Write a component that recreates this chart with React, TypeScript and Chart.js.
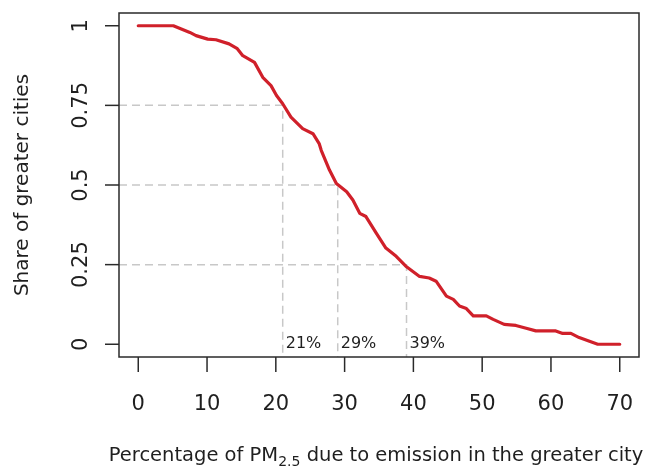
import { useEffect, useRef } from "react";
import { Chart, registerables } from "chart.js";

Chart.register(...registerables);

// Share of greater cities (y) vs percentage of PM2.5 due to emission in the greater city (x)
const pmShareX = [
  0, 5.1, 7.5, 8.4, 10.1, 11.3, 13.2, 14.4, 15.2, 16.9, 18.1, 19.3, 20.1, 21.0,
  22.2, 23.9, 25.4, 26.3, 26.6, 27.8, 28.8, 30.3, 31.2, 32.2, 33.1, 34.6, 36.0,
  37.5, 38.9, 40.9, 42.3, 43.3, 44.8, 45.8, 46.7, 47.7, 48.7, 50.6, 51.6, 53.2,
  54.9, 56.4, 57.8, 60.7, 61.7, 62.9, 64.1, 66.8, 70,
];
const cityShareY = [
  1, 1, 0.979, 0.969, 0.958, 0.956, 0.943, 0.928, 0.906, 0.885, 0.838, 0.812,
  0.781, 0.755, 0.713, 0.677, 0.661, 0.63, 0.609, 0.547, 0.505, 0.479, 0.453,
  0.411, 0.401, 0.349, 0.302, 0.276, 0.245, 0.213, 0.208, 0.198, 0.151, 0.141,
  0.12, 0.112, 0.089, 0.089, 0.078, 0.0625, 0.059, 0.05, 0.042, 0.042, 0.034,
  0.034, 0.021, 0, 0,
];

const xTicks = [0, 10, 20, 30, 40, 50, 60, 70];
const xTickLabels = ["0", "10", "20", "30", "40", "50", "60", "70"];
const yTicks = [0, 0.25, 0.5, 0.75, 1];
const yTickLabels = ["0", "0.25", "0.5", "0.75", "1"];

const thresholdX = [21, 29, 39];
const thresholdY = [0.75, 0.5, 0.25];
const thresholdLabels = ["21%", "29%", "39%"];

const xTitleMain = "Percentage of PM";
const xTitleSub = "2.5";
const xTitleRest = " due to emission in the greater city";
const yTitle = "Share of greater cities";

const FONT = '"DejaVu Sans", sans-serif';
const INK = "#1f1f1f";

const rPlotPlugin = {
  id: "rPlot",
  beforeDatasetsDraw(chart: any) {
    const { ctx, chartArea: a, scales } = chart;
    const x = scales.x;
    const y = scales.y;
    ctx.save();
    ctx.strokeStyle = "#c8c8c8";
    ctx.lineWidth = 1.5;
    ctx.setLineDash([8, 5]);
    thresholdX.forEach((tx, i) => {
      const px = x.getPixelForValue(tx);
      const py = y.getPixelForValue(thresholdY[i]);
      ctx.beginPath();
      ctx.moveTo(a.left, py);
      ctx.lineTo(px, py);
      ctx.lineTo(px, a.bottom);
      ctx.stroke();
    });
    ctx.setLineDash([]);
    ctx.fillStyle = INK;
    ctx.font = `16px ${FONT}`;
    ctx.textAlign = "left";
    ctx.textBaseline = "middle";
    thresholdX.forEach((tx, i) => {
      ctx.fillText(thresholdLabels[i], x.getPixelForValue(tx) + 3, y.getPixelForValue(0));
    });
    ctx.restore();
  },
  afterDraw(chart: any) {
    const { ctx, chartArea: a, scales } = chart;
    const x = scales.x;
    const y = scales.y;
    ctx.save();
    ctx.strokeStyle = "#2a2a2a";
    ctx.lineWidth = 1.5;
    ctx.strokeRect(a.left, a.top, a.right - a.left, a.bottom - a.top);

    // y ticks
    ctx.fillStyle = INK;
    ctx.font = `21px ${FONT}`;
    yTicks.forEach((v, i) => {
      const py = y.getPixelForValue(v);
      ctx.beginPath();
      ctx.moveTo(a.left - 14, py);
      ctx.lineTo(a.left, py);
      ctx.stroke();
      ctx.save();
      ctx.translate(a.left - 32, py);
      ctx.rotate(-Math.PI / 2);
      ctx.textAlign = "center";
      ctx.textBaseline = "alphabetic";
      ctx.fillText(yTickLabels[i], 0, 0);
      ctx.restore();
    });

    // x ticks
    xTicks.forEach((v, i) => {
      const px = x.getPixelForValue(v);
      ctx.beginPath();
      ctx.moveTo(px, a.bottom);
      ctx.lineTo(px, a.bottom + 15);
      ctx.stroke();
      ctx.textAlign = "center";
      ctx.textBaseline = "alphabetic";
      ctx.fillText(xTickLabels[i], px, a.bottom + 53);
    });

    // x title with subscript
    const mainFont = `19.5px ${FONT}`;
    const subFont = `14px ${FONT}`;
    ctx.font = mainFont;
    const w1 = ctx.measureText(xTitleMain).width;
    const w3 = ctx.measureText(xTitleRest).width;
    ctx.font = subFont;
    const w2 = ctx.measureText(xTitleSub).width;
    const cx = (a.left + a.right) / 2 - 3;
    let sx = cx - (w1 + w2 + w3) / 2;
    const base = a.bottom + 104;
    ctx.textAlign = "left";
    ctx.textBaseline = "alphabetic";
    ctx.font = mainFont;
    ctx.fillText(xTitleMain, sx, base);
    sx += w1;
    ctx.font = subFont;
    ctx.fillText(xTitleSub, sx, base + 5);
    sx += w2;
    ctx.font = mainFont;
    ctx.fillText(xTitleRest, sx, base);

    // y title
    ctx.save();
    ctx.translate(28, (a.top + a.bottom) / 2);
    ctx.rotate(-Math.PI / 2);
    ctx.font = `20px ${FONT}`;
    ctx.textAlign = "center";
    ctx.textBaseline = "alphabetic";
    ctx.fillText(yTitle, 0, 0);
    ctx.restore();

    ctx.restore();
  },
};

export default function App() {
  const canvasRef = useRef<HTMLCanvasElement | null>(null);

  useEffect(() => {
    if (!canvasRef.current) return;
    const chart = new Chart(canvasRef.current, {
      type: "line",
      data: {
        datasets: [
          {
            data: pmShareX.map((v, i) => ({ x: v, y: cityShareY[i] })),
            borderColor: "#d0202a",
            borderWidth: 3.2,
            pointRadius: 0,
            tension: 0,
            borderJoinStyle: "round",
            borderCapStyle: "round",
            fill: false,
          },
        ],
      },
      options: {
        animation: false,
        responsive: true,
        maintainAspectRatio: false,
        layout: { padding: { left: 119, right: 16, top: 13, bottom: 110 } },
        scales: {
          x: { type: "linear", min: -2.8, max: 72.8, display: false },
          y: { type: "linear", min: -0.04, max: 1.04, display: false },
        },
        plugins: {
          legend: { display: false },
          tooltip: { enabled: false },
        },
      },
      plugins: [rPlotPlugin],
    } as any);
    return () => chart.destroy();
  }, []);

  return (
    <div
      style={{
        position: "fixed",
        left: 0,
        top: 0,
        width: 655,
        height: 467,
        background: "#ffffff",
      }}
    >
      <canvas ref={canvasRef} />
    </div>
  );
}
